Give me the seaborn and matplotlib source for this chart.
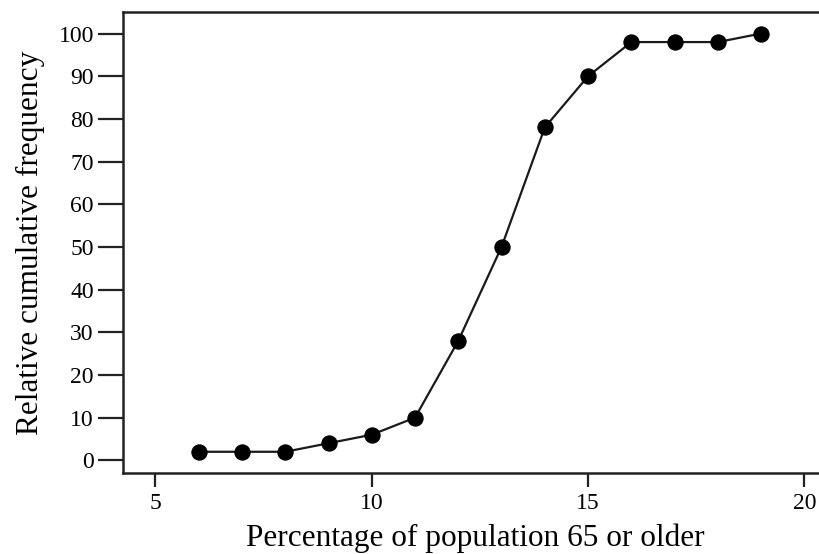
import matplotlib
matplotlib.use("Agg")
import matplotlib.pyplot as plt
import seaborn as sns
import pandas as pd

# Share of population aged 65+ and the cumulative relative frequency
pct_65_older = [6, 7, 8, 9, 10, 11, 12, 13, 14, 15, 16, 17, 18, 19]
cum_rel_freq = [2, 2, 2, 4, 6, 10, 28, 50, 78, 90, 98, 98, 98, 100]
x_ticks = [5, 10, 15, 20]
y_ticks = [0, 10, 20, 30, 40, 50, 60, 70, 80, 90, 100]

df = pd.DataFrame({"pct": pct_65_older, "freq": cum_rel_freq})

sns.set_theme(style="ticks")
plt.rcParams["font.family"] = ["Liberation Serif", "DejaVu Serif"]

fig = plt.figure(figsize=(8.2, 5.54), dpi=100)
ax = fig.add_axes([0.15, 0.146, 0.86, 0.832])

sns.lineplot(data=df, x="pct", y="freq", ax=ax, color="#1a1a1a", linewidth=1.6,
             marker="o", markersize=11, markeredgecolor="black",
             markerfacecolor="black")

ax.set_xlim(4.25, 20.55)
ax.set_ylim(-3.0, 105)
ax.set_xticks(x_ticks)
ax.set_yticks(y_ticks)
ax.tick_params(axis="x", direction="out", length=10, width=1.6,
               colors="#222222", labelcolor="black", labelsize=17, pad=4)
ax.tick_params(axis="y", direction="out", length=18, width=1.6,
               colors="#222222", labelcolor="black", labelsize=17, pad=3)
ax.set_xlabel("Percentage of population 65 or older", fontsize=22.5,
              color="black", labelpad=7)
ax.set_ylabel("Relative cumulative frequency", fontsize=22.5,
              color="black", labelpad=10)

for side in ["left", "bottom", "top"]:
    ax.spines[side].set_linewidth(1.8)
    ax.spines[side].set_color("#222222")
ax.spines["right"].set_visible(False)

fig.savefig("out.png", dpi=100)
